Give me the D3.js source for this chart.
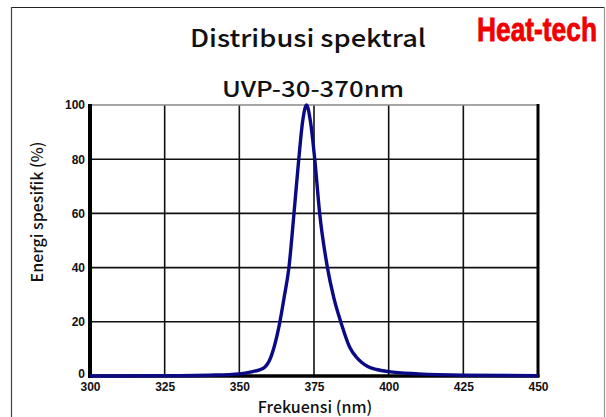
<!DOCTYPE html>
<html>
<head>
<meta charset="utf-8">
<script src="https://cdn.jsdelivr.net/npm/d3@7"></script>
<style>
  body { margin: 0; background: #fff; }
  svg { display: block; }
</style>
</head>
<body>
<svg id="mysvg" width="606" height="417"></svg>
<script>
// spectrum (nm, %)
var wavelengths = [300, 330, 340, 350, 354, 356.5, 358.5, 360, 361.6, 363.5, 365, 366.6, 368.3, 369.9, 371.2, 372.5, 373.8, 375.25, 376.9, 379.5, 381.6, 384.1, 387, 389, 391, 393, 396, 400, 410, 425, 450];
var energy      = [0, 0.1, 0.3, 0.8, 1.5, 2.2, 3.2, 5.5, 10.5, 19.5, 29, 40, 60, 80, 94, 100, 94, 80, 60, 40, 29, 19.5, 10.5, 7.2, 5, 3.5, 2.4, 1.6, 0.8, 0.3, 0.1];
var xTicks = [300, 325, 350, 375, 400, 425, 450];
var yTicks = [0, 20, 40, 60, 80, 100];

var titleText = "Distribusi spektral";
var subTitleText = "UVP-30-370nm";
var brandText = "Heat-tech";
var xLabel = "Frekuensi (nm)";
var yLabel = "Energi spesifik (%)";

function drawChart () {
	var svg = d3.select("#mysvg");
	var gothic = "'Noto Sans CJK JP', 'Noto Sans', sans-serif";
	var arial = "'Liberation Sans', Arial, sans-serif";

	var pLeft = 90, pRight = 538, pTop = 105, pBottom = 376;
	var x = d3.scaleLinear().domain([300, 450]).range([pLeft, pRight]);
	var y = d3.scaleLinear().domain([0, 100]).range([pBottom, pTop]);

	// outer frame
	svg.append("line").attr("x1", 11).attr("x2", 605).attr("y1", 7.5).attr("y2", 7.5)
		.attr("stroke", "#222").attr("stroke-width", 1.2);
	svg.append("line").attr("x1", 11.5).attr("x2", 11.5).attr("y1", 7).attr("y2", 417)
		.attr("stroke", "#444").attr("stroke-width", 1.2);
	svg.append("line").attr("x1", 604.5).attr("x2", 604.5).attr("y1", 7).attr("y2", 417)
		.attr("stroke", "#999").attr("stroke-width", 1.2);

	// titles
	svg.append("text").attr("x", 190).attr("y", 47)
		.attr("font-family", gothic).attr("font-weight", 500).attr("font-size", 24)
		.attr("textLength", 236).attr("lengthAdjust", "spacingAndGlyphs")
		.attr("fill", "#111").text(titleText);
	svg.append("text").attr("x", 222).attr("y", 97)
		.attr("font-family", gothic).attr("font-weight", 500).attr("font-size", 22)
		.attr("textLength", 182).attr("lengthAdjust", "spacingAndGlyphs")
		.attr("fill", "#111").text(subTitleText);
	svg.append("text").attr("x", 477).attr("y", 41)
		.attr("font-family", arial).attr("font-weight", "bold").attr("font-size", 34)
		.attr("textLength", 120).attr("lengthAdjust", "spacingAndGlyphs")
		.attr("stroke", "#f00000").attr("stroke-width", 0.8)
		.attr("fill", "#f00000").text(brandText);

	// grid
	var grid = svg.append("g");
	grid.selectAll(".vgrid").data(xTicks.slice(1, -1)).enter().append("line")
		.attr("x1", function (d) { return x(d); }).attr("x2", function (d) { return x(d); })
		.attr("y1", pTop).attr("y2", pBottom)
		.attr("stroke", "#111").attr("stroke-width", 1.6);
	grid.selectAll(".hgrid").data(yTicks.slice(1, -1)).enter().append("line")
		.attr("x1", pLeft).attr("x2", pRight)
		.attr("y1", function (d) { return y(d); }).attr("y2", function (d) { return y(d); })
		.attr("stroke", "#111").attr("stroke-width", 1.6);
	// top edge is thin and grey
	grid.append("line").attr("x1", pLeft).attr("x2", pRight).attr("y1", y(100)).attr("y2", y(100))
		.attr("stroke", "#888").attr("stroke-width", 1.5);

	// thick frame left / bottom / right
	svg.append("line").attr("x1", pLeft).attr("x2", pLeft).attr("y1", pTop - 1).attr("y2", pBottom + 2)
		.attr("stroke", "#000").attr("stroke-width", 4);
	svg.append("line").attr("x1", pLeft - 2).attr("x2", pRight + 1.5).attr("y1", pBottom).attr("y2", pBottom)
		.attr("stroke", "#000").attr("stroke-width", 3.5);
	svg.append("line").attr("x1", pRight).attr("x2", pRight).attr("y1", pTop - 1).attr("y2", pBottom + 1)
		.attr("stroke", "#000").attr("stroke-width", 3);

	// tick labels
	var xAxis = svg.append("g").attr("transform", "translate(0," + pBottom + ")")
		.call(d3.axisBottom(x).tickValues(xTicks).tickSize(0).tickPadding(6));
	var yAxis = svg.append("g").attr("transform", "translate(" + (pLeft - 5) + ",0)")
		.call(d3.axisLeft(y).tickValues(yTicks).tickSize(0).tickPadding(0));
	[xAxis, yAxis].forEach(function (a) {
		a.select(".domain").remove();
		a.selectAll("text").attr("font-family", arial).attr("font-weight", "bold")
			.attr("font-size", 12).attr("fill", "#111");
	});
	yAxis.selectAll(".tick").filter(function (d) { return d === 0; })
		.select("text").attr("dy", "0.1em");

	// curve
	var pts = wavelengths.map(function (w, i) { return [w, energy[i]]; });
	var line = d3.line()
		.x(function (d) { return x(d[0]); })
		.y(function (d) { return y(d[1]); })
		.curve(d3.curveMonotoneX);
	svg.append("path").datum(pts).attr("d", line)
		.attr("fill", "none").attr("stroke", "#0a0a85").attr("stroke-width", 3.4)
		.attr("stroke-linejoin", "round");

	// axis titles
	svg.append("text").attr("x", 315).attr("y", 413).attr("text-anchor", "middle")
		.attr("font-family", gothic).attr("font-weight", 500).attr("font-size", 16)
		.attr("fill", "#111").text(xLabel);
	svg.append("text").attr("transform", "translate(43,212) rotate(-90)").attr("text-anchor", "middle")
		.attr("font-family", gothic).attr("font-weight", 500).attr("font-size", 16)
		.attr("fill", "#111").text(yLabel);
}

drawChart();
</script>
</body>
</html>
